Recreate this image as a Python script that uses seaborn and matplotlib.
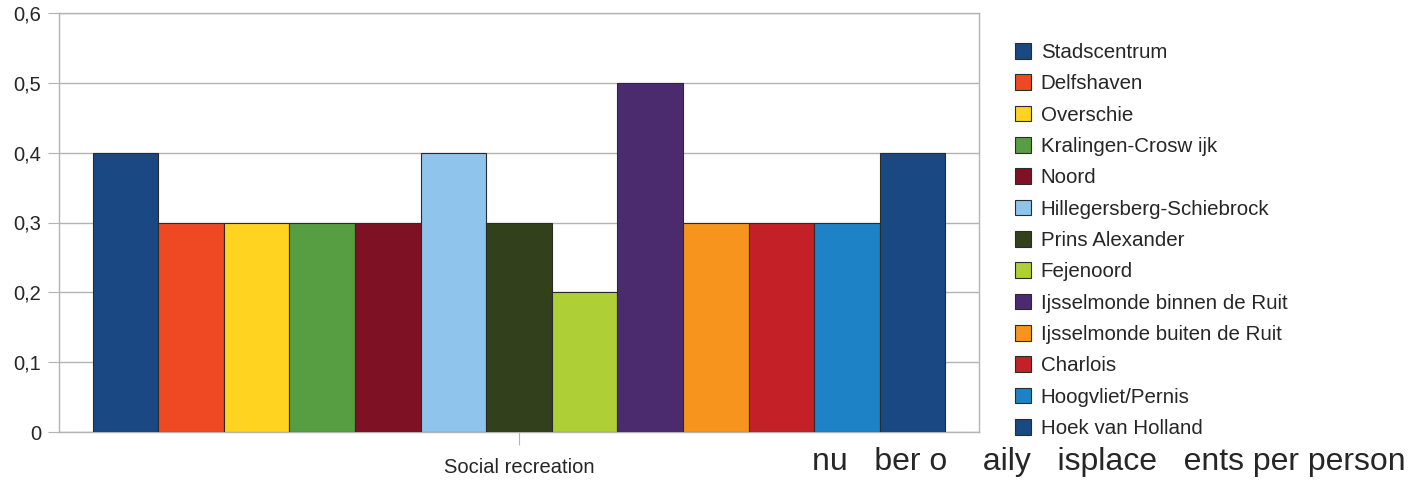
import numpy as np
import matplotlib
matplotlib.use("Agg")
import matplotlib.pyplot as plt
import pandas as pd
import seaborn as sns
from matplotlib.ticker import FuncFormatter
from matplotlib.patches import Patch

districts = ["Stadscentrum", "Delfshaven", "Overschie", "Kralingen-Crosw ijk", "Noord",
             "Hillegersberg-Schiebrock", "Prins Alexander", "Fejenoord",
             "Ijsselmonde binnen de Ruit", "Ijsselmonde buiten de Ruit", "Charlois",
             "Hoogvliet/Pernis", "Hoek van Holland"]
values = [0.4, 0.3, 0.3, 0.3, 0.3, 0.4, 0.3, 0.2, 0.5, 0.3, 0.3, 0.3, 0.4]
category = "Social recreation"
colors = ["#194882", "#ef4923", "#ffd320", "#579d42", "#7e1124", "#8fc4ec", "#33401c",
          "#aecf35", "#4b2a6e", "#f7941e", "#c32127", "#1e82c6", "#194882"]

df = pd.DataFrame({"category": [category] * len(districts), "district": districts, "value": values})

sns.set_style("white")
plt.rcParams["font.family"] = ["Liberation Sans", "DejaVu Sans"]

fig = plt.figure(figsize=(14.16, 4.8), dpi=100)
ax = fig.add_axes([59 / 1416, 1 - 432 / 480, 920 / 1416, 419 / 480])

sns.barplot(data=df, x="category", y="value", hue="district", palette=colors, saturation=1,
            width=0.927, edgecolor="#2b2b2b", linewidth=0.8, legend=False, ax=ax, zorder=3)

ax.set_ylim(0, 0.6)
ax.set_xlim(-0.5, 0.5)
ax.set_yticks(np.arange(0, 0.61, 0.1))
ax.yaxis.set_major_formatter(FuncFormatter(lambda v, p: "0" if v == 0 else f"{v:.1f}".replace(".", ",")))
ax.yaxis.grid(True, color="#b3b3b3", linewidth=1, zorder=0)
ax.set_axisbelow(True)
for s in ax.spines.values():
    s.set_color("#b3b3b3")
    s.set_linewidth(1)
ax.tick_params(axis="y", length=8, color="#b3b3b3", labelsize=14.5, pad=5, left=True)
ax.tick_params(axis="x", length=9, color="#b3b3b3", labelsize=14.5, pad=10, bottom=True)
ax.set_xlabel("")
ax.set_ylabel("")

handles = [Patch(facecolor=c, edgecolor="#2b2b2b", linewidth=0.8) for c in colors]
fig.legend(handles, districts, loc="upper left", bbox_to_anchor=(1015 / 1416, 1 - 43 / 480),
           frameon=False, fontsize=14.8, handlelength=0.8, handleheight=0.8,
           handletextpad=0.45, labelspacing=0.6, borderpad=0, borderaxespad=0)

fig.text(1406 / 1416, 1 - 470 / 480, "nu   ber o    aily   isplace   ents per person",
         ha="right", va="baseline", fontsize=23)

fig.savefig("out.png", dpi=100)
